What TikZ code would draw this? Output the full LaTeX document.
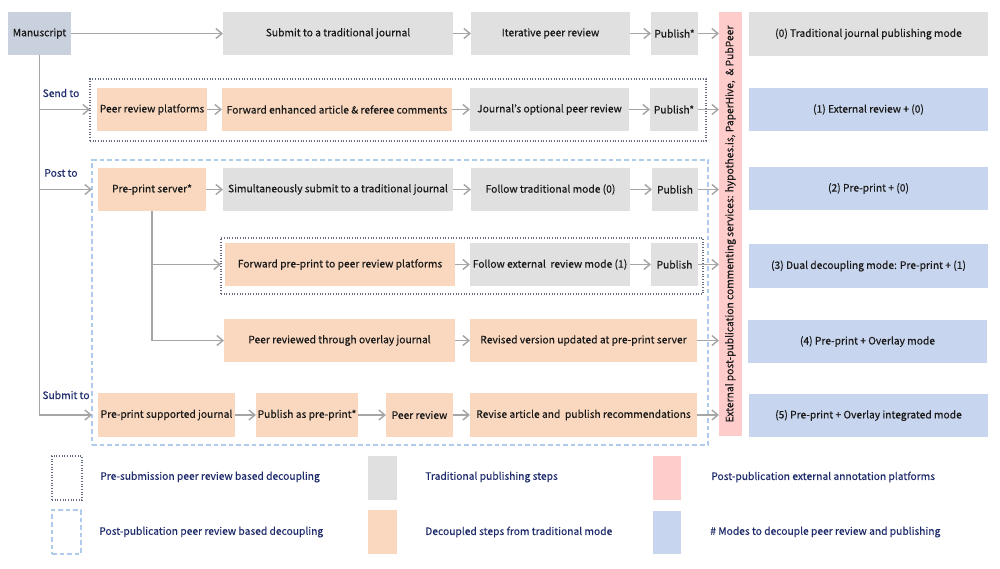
\documentclass[tikz,border=0pt]{standalone}
\usepackage{fontspec}
\setmainfont{Noto Sans CJK KR}[FakeBold=0.35]
\usetikzlibrary{arrows.meta}
\definecolor{cgray}{HTML}{E0E0E0}
\definecolor{cpeach}{HTML}{FAD8C0}
\definecolor{cpink}{HTML}{FFCCCC}
\definecolor{cblue}{HTML}{C8D5EE}
\definecolor{cms}{HTML}{C9D0DE}
\definecolor{carr}{HTML}{A6A6A6}
\definecolor{cnavy}{HTML}{1F2C6B}
\definecolor{cdot}{HTML}{646A80}
\definecolor{cdash}{HTML}{AFCBEC}
\definecolor{ctxt}{HTML}{1A1A1A}
\newcommand\mybox[7]{\node[#1, minimum width={(#4-#3)*0.75pt}, minimum height={(#6-#5)*0.75pt}] (#2) at ({(#3+#4)/2},{(#5+#6)/2}) {#7};}
\tikzset{
  base/.style={inner sep=0pt, outer sep=0pt, font=\fontsize{7.7}{9.5}\selectfont, text=ctxt, align=center},
  gbox/.style={base, fill=cgray},
  pbox/.style={base, fill=cpeach},
  bbox/.style={base, fill=cblue},
  pkbox/.style={base, fill=cpink},
  msbox/.style={base, fill=cms},
  dotbox/.style={base, draw=cdot, line width=0.8pt, dash pattern=on 0.8pt off 1.2pt},
  dashbox/.style={base, draw=cdash, line width=1pt, dash pattern=on 3.5pt off 2.2pt},
  arr/.style={draw=carr, line width=1.1pt, -{Straight Barb[length=4.5pt,width=7.5pt,line width=1.1pt]}},
  lbl/.style={font=\fontsize{7.7}{9.5}\selectfont, text=cnavy, inner sep=0pt},
}
\begin{document}
\begin{tikzpicture}[x=0.75pt,y=-0.75pt]
\useasboundingbox (0,0) rectangle (1000,568);
% group frames
\mybox{dotbox}{dotA}{90}{706}{79}{141}{}
\mybox{dashbox}{dashA}{92}{708}{160}{445}{}
\mybox{dotbox}{dotB}{221}{703}{238}{294}{}
% boxes
\mybox{msbox}{ms}{8}{71}{12}{55}{Manuscript}
\mybox{gbox}{r0a}{223}{453}{12}{55}{Submit to a traditional journal}
\mybox{gbox}{r0b}{471}{630}{12}{55}{Iterative peer review}
\mybox{gbox}{r0c}{651}{698}{12}{55}{Publish*}
\mybox{pkbox}{pk}{719}{742}{12}{436}{}
\node[lbl, text=ctxt, rotate=90] (pkt) at (pk.center) {External post-publication commenting services: hypothes.is, PaperHive,\ \ \& PubPeer};
\mybox{gbox}{m0}{749}{988}{12}{56}{(0) Traditional journal publishing mode}
\mybox{pbox}{r1a}{97}{207}{88}{131}{Peer review platforms}
\mybox{pbox}{r1b}{222}{452}{88}{131}{Forward enhanced article \& referee comments}
\mybox{gbox}{r1c}{470}{629}{88}{131}{Journal’s optional peer review}
\mybox{gbox}{r1d}{650}{698}{88}{131}{Publish*}
\mybox{bbox}{m1}{749}{988}{88}{131}{(1) External review + (0)}
\mybox{pbox}{r2a}{98}{206}{168}{211}{Pre-print server*}
\mybox{gbox}{r2b}{223}{453}{168}{211}{Simultaneously submit to a traditional journal}
\mybox{gbox}{r2c}{471}{630}{168}{211}{Follow traditional mode (0)}
\mybox{gbox}{r2d}{652}{698}{168}{211}{Publish}
\mybox{bbox}{m2}{749}{988}{167}{210}{(2) Pre-print + (0)}
\mybox{pbox}{r3a}{225}{455}{243}{286}{Forward pre-print to peer review platforms}
\mybox{gbox}{r3b}{470}{630}{243}{286}{Follow external\ \ review mode (1)}
\mybox{gbox}{r3c}{651}{698}{243}{286}{Publish}
\mybox{bbox}{m3}{749}{988}{244}{288}{(3) Dual decoupling mode: Pre-print + (1)}
\mybox{pbox}{r4a}{224}{455}{319}{362}{Peer reviewed through overlay journal}
\mybox{pbox}{r4b}{470}{697}{319}{362}{Revised version updated at pre-print server}
\mybox{bbox}{m4}{748}{987}{320}{363}{(4) Pre-print + Overlay mode}
\mybox{pbox}{r5a}{98}{235}{393}{437}{Pre-print supported journal}
\mybox{pbox}{r5b}{256}{358}{393}{437}{Publish as pre-print*}
\mybox{pbox}{r5c}{386}{453}{393}{437}{Peer review}
\mybox{pbox}{r5d}{470}{697}{393}{437}{Revise article and\ \ publish recommendations}
\mybox{bbox}{m5}{749}{988}{394}{437}{(5) Pre-print + Overlay integrated mode}
% side labels
\node[lbl] (l1) at (61,93) {Send to};
\node[lbl] (l2) at (61,173) {Post to};
\node[lbl] (l3) at (66,395) {Submit to};
% connectors
\draw[arr] (ms) -- (r0a);
\draw[arr] (r0a) -- (r0b);
\draw[arr] (r0b) -- (r0c);
\draw[arr] (r0c.east) -- (r0c.east -| pk.west);
\draw[arr] (ms.south) |- (dotA.west |- r1a);
\draw[arr] (ms.south) |- (dashA.west |- r2a);
\draw[arr] (ms.south) |- (dashA.west |- r5a);
\draw[arr] (r1a) -- (r1b);
\draw[arr] (r1b) -- (r1c);
\draw[arr] (r1c) -- (r1d);
\draw[arr] (r1d.east) -- (r1d.east -| pk.west);
\draw[arr] (r2a) -- (r2b);
\draw[arr] (r2b) -- (r2c);
\draw[arr] (r2c) -- (r2d);
\draw[arr] (r2d.east) -- (r2d.east -| pk.west);
\draw[arr] (r2a.south) |- (dotB.west |- r3a);
\draw[arr] (r2a.south) |- (r4a.west);
\draw[arr] (r3a) -- (r3b);
\draw[arr] (r3b) -- (r3c);
\draw[arr] (r3c.east) -- (r3c.east -| pk.west);
\draw[arr] (r4a) -- (r4b);
\draw[arr] (r4b.east) -- (r4b.east -| pk.west);
\draw[arr] (r5a) -- (r5b);
\draw[arr] (r5b) -- (r5c);
\draw[arr] (r5c) -- (r5d);
\draw[arr] (r5d.east) -- (r5d.east -| pk.west);
% legend
\mybox{dotbox}{k1}{52}{82}{456}{500}{}
\mybox{dashbox}{k2}{52}{81}{510}{554}{}
\mybox{base,fill=cgray}{k3}{368}{397}{456}{500}{}
\mybox{pbox}{k4}{368}{397}{510}{554}{}
\mybox{pkbox}{k5}{653}{681}{456}{500}{}
\mybox{bbox}{k6}{653}{681}{511}{554}{}
\node[lbl, anchor=west] (t1) at (100,477) {Pre-submission peer review based decoupling};
\node[lbl, anchor=west] (t2) at (99,532) {Post-publication peer review based decoupling};
\node[lbl, anchor=west] (t3) at (425,477) {Traditional publishing steps};
\node[lbl, anchor=west] (t4) at (425,532) {Decoupled steps from traditional mode};
\node[lbl, anchor=west] (t5) at (711,477) {Post-publication external annotation platforms};
\node[lbl, anchor=west] (t6) at (710,532) {\# Modes to decouple peer review and publishing};
\end{tikzpicture}
\end{document}
